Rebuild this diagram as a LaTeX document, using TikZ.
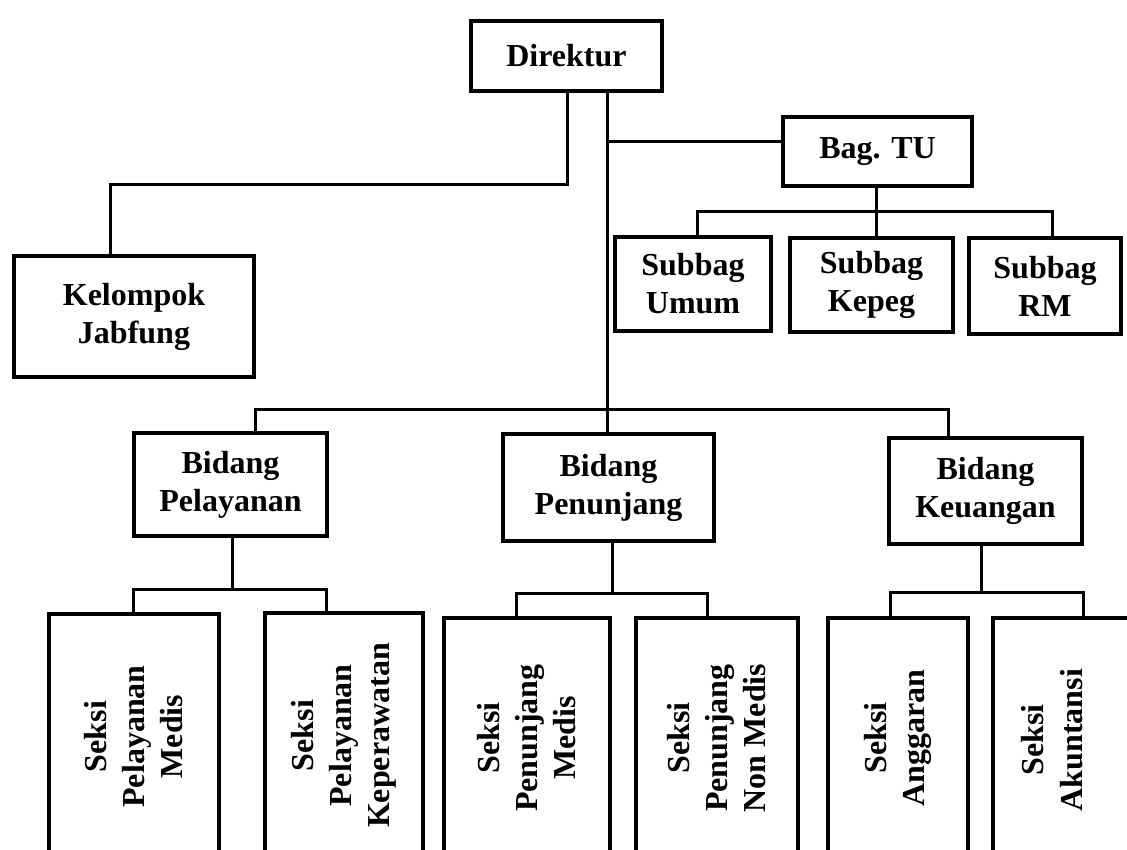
\documentclass[tikz,border=0pt]{standalone}
\usepackage{fontspec}
\setmainfont{Liberation Serif}
\begin{document}
\begin{tikzpicture}[x=1pt,y=1pt,
  box/.style={draw, line width=3.5pt, rectangle, align=center, inner sep=0pt,
    font=\bfseries\fontsize{32}{38}\selectfont},
  vtext/.style={rotate=90, align=center, inner sep=0pt,
    font=\bfseries\fontsize{32}{39}\selectfont},
  conn/.style={line width=3pt}]
\useasboundingbox (0,0) rectangle (1127,-850);
% top level
\node[box, minimum width=191, minimum height=70] (dir) at (566.5,-56) {Direktur};
\node[box, minimum width=240, minimum height=121] (kel) at (134,-316.5) {Kelompok\\Jabfung};
\node[box, minimum width=189, minimum height=69] (bagtu) at (877.5,-151.5) {Bag. TU};
% subbag
\node[box, minimum width=156, minimum height=94] (umum) at (693,-284) {Subbag\\Umum};
\node[box, minimum width=163, minimum height=94] (kepeg) at (871.5,-285) {Subbag\\Kepeg};
\node[box, minimum width=152, minimum height=96] (rm) at (1045,-286) {Subbag\\RM};
% bidang
\node[box, minimum width=193, minimum height=103] (bpel) at (230.5,-484.5) {Bidang\\Pelayanan};
\node[box, minimum width=211, minimum height=107] (bpen) at (608.5,-487.5) {Bidang\\Penunjang};
\node[box, minimum width=193, minimum height=106] (bkeu) at (985.5,-491) {Bidang\\Keuangan};
% seksi (rotated)
\node[box, rotate=90, minimum width=245, minimum height=170] (s1) at (134,-736.5) {Seksi\\Pelayanan\\Medis};
\node[box, rotate=90, minimum width=245, minimum height=158] (s2) at (344,-735.5) {Seksi\\Pelayanan\\Keperawatan};
\node[box, rotate=90, minimum width=240, minimum height=166] (s3) at (527,-738) {Seksi\\Penunjang\\Medis};
\node[box, rotate=90, minimum width=240, minimum height=162] (s4) at (717,-738) {Seksi\\Penunjang\\Non Medis};
\node[box, rotate=90, minimum width=240, minimum height=140] (s5) at (898,-738) {Seksi\\Anggaran};
\node[box, minimum width=177, minimum height=240] (s6) at (1081.5,-738) {};
\node[vtext] (t6) at (1052,-740) {Seksi\\Akuntansi};
% junction coordinates
\coordinate (j1) at (567,-185);
\coordinate (kx) at (110,0);
\coordinate (tx) at (607,0);
\coordinate (b1) at (607,-142);
\coordinate (sb) at (876,-212);
\coordinate (u) at (697,-212);
\coordinate (r) at (1052,-212);
\coordinate (bl) at (255,-409);
\coordinate (br) at (948,-409);
\coordinate (p) at (232,-589);
\coordinate (pl) at (133,-589);
\coordinate (pr) at (326,-589);
\coordinate (q) at (612,-593);
\coordinate (ql) at (516,-593);
\coordinate (qr) at (707,-593);
\coordinate (k) at (981,-592);
\coordinate (kl) at (890,-592);
\coordinate (kr) at (1083,-592);
% connectors
\draw[conn] (dir.south -| j1) -- (j1) -| (kel.north -| kx);
\draw[conn] (dir.south -| tx) -- (bpen.north -| tx);
\draw[conn] (b1) -- (b1 -| bagtu.west);
\draw[conn] (bagtu.south -| sb) -- (sb |- kepeg.north);
\draw[conn] (u |- umum.north) -- (u) -- (r) -- (r |- rm.north);
\draw[conn] (bl |- bpel.north) -- (bl) -- (br) -- (br |- bkeu.north);
\draw[conn] (bpel.south -| p) -- (p);
\draw[conn] (pl |- s1.east) -- (pl) -- (pr) -- (pr |- s2.east);
\draw[conn] (bpen.south -| q) -- (q);
\draw[conn] (ql |- s3.east) -- (ql) -- (qr) -- (qr |- s4.east);
\draw[conn] (bkeu.south -| k) -- (k);
\draw[conn] (kl |- s5.east) -- (kl) -- (kr) -- (kr |- s6.north);
\end{tikzpicture}
\end{document}
